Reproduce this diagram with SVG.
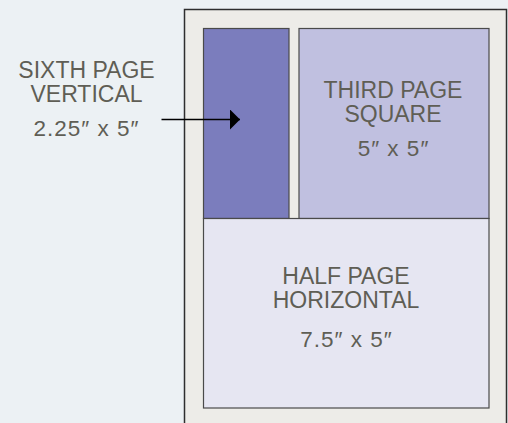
<svg xmlns="http://www.w3.org/2000/svg" width="508" height="423" viewBox="0 0 508 423">
<defs>
<style>
.lbl{font-family:"Liberation Sans",Arial,sans-serif;fill:#5f5e55;text-anchor:middle;font-size:23px}
.dim{font-family:"Liberation Sans",Arial,sans-serif;fill:#5f5e55;text-anchor:middle;font-size:22.5px;letter-spacing:1px}
.blk{stroke:#4a4a4a;stroke-width:1.2}
</style>
<marker id="ah" markerWidth="10" markerHeight="20" refX="10" refY="10" orient="auto" markerUnits="userSpaceOnUse">
<path d="M0,0 L10,10 L0,20 Z" fill="#000"/>
</marker>
</defs>
<rect width="508" height="423" fill="#ecf1f4"/>
<g id="page">
<rect x="184.5" y="9.5" width="322" height="420" fill="#edece8" stroke="#2e2e2e" stroke-width="1.5"/>
</g>
<g id="sixth">
<rect class="blk" x="203.5" y="28.5" width="85.5" height="190" fill="#7b7dbd"/>
</g>
<g id="third">
<rect class="blk" x="299" y="28.5" width="190" height="190" fill="#c0c0e0"/>
<text class="lbl"><tspan x="393" y="97.5">THIRD PAGE</tspan><tspan x="393" y="121.5">SQUARE</tspan></text>
<text class="dim" x="393.5" y="155.5">5″ x 5″</text>
</g>
<g id="half">
<rect class="blk" x="203.5" y="218.5" width="285.5" height="189.5" fill="#e6e6f2"/>
<text class="lbl"><tspan x="346" y="284">HALF PAGE</tspan><tspan x="346" y="308">HORIZONTAL</tspan></text>
<text class="dim" x="346.5" y="346.5">7.5″ x 5″</text>
</g>
<g id="sixth-label">
<text class="lbl"><tspan x="86.5" y="77.5">SIXTH PAGE</tspan><tspan x="86.5" y="101.5">VERTICAL</tspan></text>
<text class="dim" x="86.5" y="135.5">2.25″ x 5″</text>
</g>
<g id="connectors">
<line x1="161.5" y1="119.5" x2="240" y2="119.5" stroke="#000" stroke-width="1.5" marker-end="url(#ah)"/>
</g>
</svg>
